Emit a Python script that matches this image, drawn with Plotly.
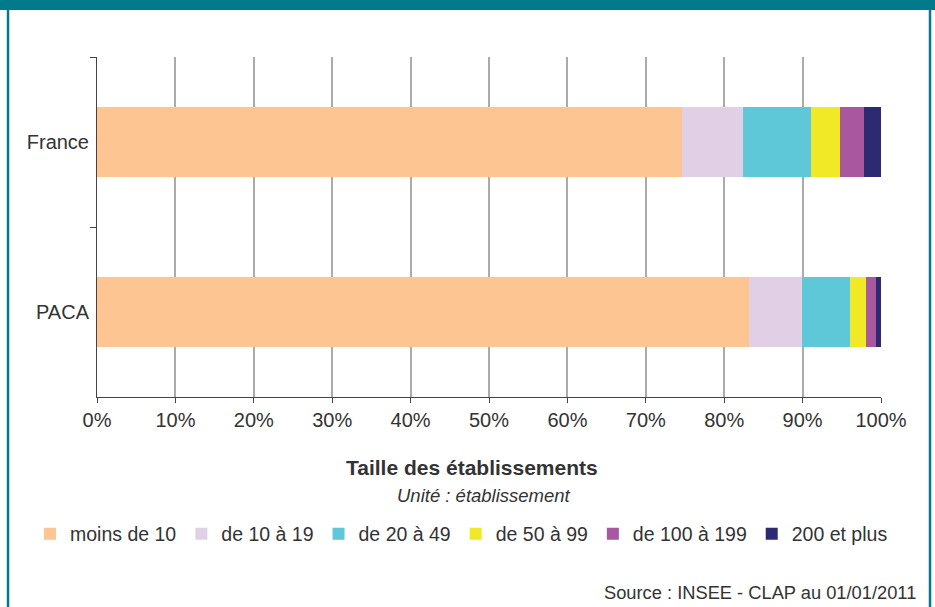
import plotly.graph_objects as go

categories = ["France", "PACA"]
series_names = ["moins de 10", "de 10 à 19", "de 20 à 49", "de 50 à 99", "de 100 à 199", "200 et plus"]
france = [74.6, 7.8, 8.7, 3.7, 3.0, 2.2]
paca = [83.2, 6.7, 6.1, 2.1, 1.3, 0.6]
colors = ["#FDC592", "#E0CFE5", "#5EC8D9", "#F1E826", "#A9579F", "#2E2A72"]
tick_vals = [0, 10, 20, 30, 40, 50, 60, 70, 80, 90, 100]
tick_text = [f"{v}%" for v in tick_vals]

FONT = "Liberation Sans, Arial, sans-serif"
TXT = "#333333"
TEAL = "#017B8C"

fig = go.Figure()
for i, name in enumerate(series_names):
    fig.add_trace(go.Bar(
        y=categories, x=[france[i], paca[i]], name=name, orientation="h",
        marker=dict(color=colors[i], line=dict(width=0)),
        hoverinfo="skip",
    ))

fig.update_layout(
    width=935, height=607,
    barmode="stack", bargap=0.588,
    paper_bgcolor="white", plot_bgcolor="white",
    margin=dict(l=97, r=54, t=57, b=210, autoexpand=False),
    font=dict(family=FONT, size=20, color=TXT),
    xaxis=dict(
        range=[0, 100], tickvals=tick_vals, ticktext=tick_text,
        showgrid=True, gridcolor="#ABABAB", gridwidth=1.5,
        showline=True, linecolor="#444444", linewidth=1,
        ticks="outside", ticklen=5, tickcolor="#444444",
        zeroline=False, tickfont=dict(size=20, color=TXT),
        fixedrange=True,
    ),
    yaxis=dict(
        categoryorder="array", categoryarray=categories, autorange="reversed",
        showline=True, linecolor="#444444", linewidth=1,
        ticks="outside", ticklen=6, tickcolor="#444444", tickson="boundaries",
        ticklabelstandoff=3,
        showgrid=False, tickfont=dict(size=20, color=TXT),
        fixedrange=True,
    ),
    legend=dict(
        orientation="h", x=-0.0855, xanchor="left",
        y=-0.403, yanchor="middle",
        font=dict(size=19.5, color=TXT), traceorder="normal",
        itemwidth=30, tracegroupgap=0,
    ),
    showlegend=True,
)

# frame
fig.add_shape(type="rect", xref="paper", yref="paper",
              x0=-0.13, x1=1.08, y0=1.1382, y1=1.20,
              fillcolor=TEAL, line=dict(width=0), layer="above")
fig.add_shape(type="line", xref="paper", yref="paper",
              x0=-0.1135, x1=-0.1135, y0=1.14, y1=-0.65,
              line=dict(color=TEAL, width=2.5))
fig.add_shape(type="line", xref="paper", yref="paper",
              x0=1.0625, x1=1.0625, y0=1.14, y1=-0.65,
              line=dict(color=TEAL, width=2.5))

fig.add_annotation(text="<b>Taille des établissements</b>", xref="paper", yref="paper",
                   x=0.478, y=-0.2059, xanchor="center", yanchor="middle",
                   showarrow=False, font=dict(size=21, color=TXT))
fig.add_annotation(text="<i>Unité : établissement</i>", xref="paper", yref="paper",
                   x=0.4936, y=-0.291, xanchor="center", yanchor="middle",
                   showarrow=False, font=dict(size=18.5, color=TXT))
fig.add_annotation(text="Source : INSEE - CLAP au 01/01/2011", xref="paper", yref="paper",
                   x=1.047, y=-0.576, xanchor="right", yanchor="middle",
                   showarrow=False, font=dict(size=18.3, color=TXT))

fig.write_html("out.html", config={"displayModeBar": False},
               post_script="document.body.style.margin='0';document.body.style.overflow='hidden';")
